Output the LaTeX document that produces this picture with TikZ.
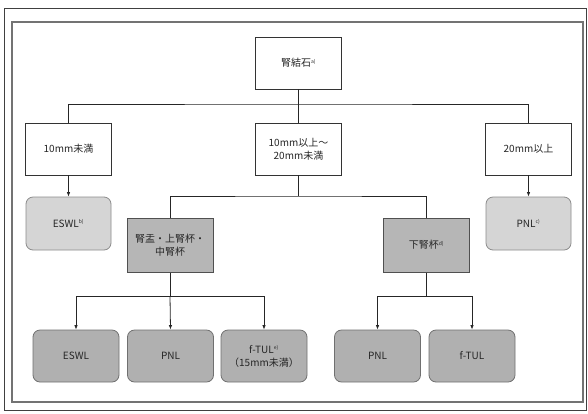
\documentclass[tikz,border=0pt]{standalone}
\usepackage{fontspec}
\setmainfont{Noto Sans CJK JP}
\usetikzlibrary{arrows.meta}
\definecolor{lfill}{HTML}{D5D5D5}
\definecolor{lline}{HTML}{8C8C8C}
\definecolor{dfill}{HTML}{B6B6B6}
\definecolor{dline}{HTML}{505050}
\definecolor{mfill}{HTML}{B0B0B0}
\definecolor{mline}{HTML}{707070}
\tikzset{
  base/.style={align=center, inner sep=0pt, font=\fontsize{10}{13}\selectfont, text=black!85},
  wbox/.style={base, draw=black!80, line width=0.8pt, fill=white, minimum width=86pt, minimum height=52pt},
  lbox/.style={base, draw=lline, line width=0.8pt, fill=lfill, rounded corners=7pt, minimum width=85pt, minimum height=53pt},
  dbox/.style={base, draw=dline, line width=1pt, fill=dfill, minimum width=86pt, minimum height=54pt},
  mbox/.style={base, draw=mline, line width=0.8pt, fill=mfill, rounded corners=7pt, minimum width=86pt, minimum height=52pt},
  conn/.style={draw=black!85, line width=0.8pt},
  arr/.style={conn, -{Latex[length=4.5pt,width=3.5pt]}}
}
\newcommand{\sups}[1]{\textsuperscript{\fontsize{5}{6}\selectfont #1}}
\begin{document}
\begin{tikzpicture}[x=1pt,y=-1pt]
\useasboundingbox (0,0) rectangle (588,413);
\fill[white] (0,0) rectangle (588,413);
% frames
\draw[black!75, line width=0.8pt] (4,8) rectangle (586,410);
\draw[black!55, line width=1.3pt] (12,22) rectangle (583,402);
% top
\node[wbox, minimum height=52pt] (top) at (298.5,63) {腎結石\sups{a)}};
% row 2
\node[wbox] (A) at (68.5,149) {10mm未満};
\node[wbox] (B) at (298.5,149) {10mm以上〜\\20mm未満};
\node[wbox] (C) at (528.5,149) {20mm以上};
% row 3
\node[lbox] (E1) at (68.5,223.5) {ESWL\sups{b)}};
\node[lbox] (P1) at (528.5,223.5) {PNL\sups{c)}};
\node[dbox] (D1) at (170,245) {腎盂・上腎杯・\\中腎杯};
\node[dbox] (D2) at (426.5,245) {下腎杯\sups{d)}};
% bottom row
\node[mbox] (B1) at (76,356) {ESWL};
\node[mbox] (B2) at (170.5,356) {PNL};
\node[mbox] (B3) at (264,356) {f-TUL\sups{e)}\\（15mm未満）};
\node[mbox] (B4) at (377.5,356) {PNL};
\node[mbox] (B5) at (472,356) {f-TUL};
% connectors
\coordinate (h1) at (298.5,104);
\draw[conn] (top.south) -- (h1);
\draw[conn] (A.north) |- (h1) -| (C.north);
\draw[conn] (h1) -- (B.north);
\draw[arr] (A.south) -- (E1.north);
\draw[arr] (C.south) -- (P1.north);
\coordinate (h2) at (298.5,196);
\draw[conn] (B.south) -- (h2);
\draw[conn] (D1.north) |- (h2) -| (D2.north);
\coordinate (h3) at (170,296);
\draw[conn] (D1.south) -- (h3);
\draw[arr] (h3) -| (B1.north);
\draw[arr] (h3) -| (B3.north);
\draw[arr] (h3) -- (B2.north);
\coordinate (h4) at (426.5,296);
\draw[conn] (D2.south) -- (h4);
\draw[arr] (h4) -| (B4.north);
\draw[arr] (h4) -| (B5.north);
\end{tikzpicture}
\end{document}
